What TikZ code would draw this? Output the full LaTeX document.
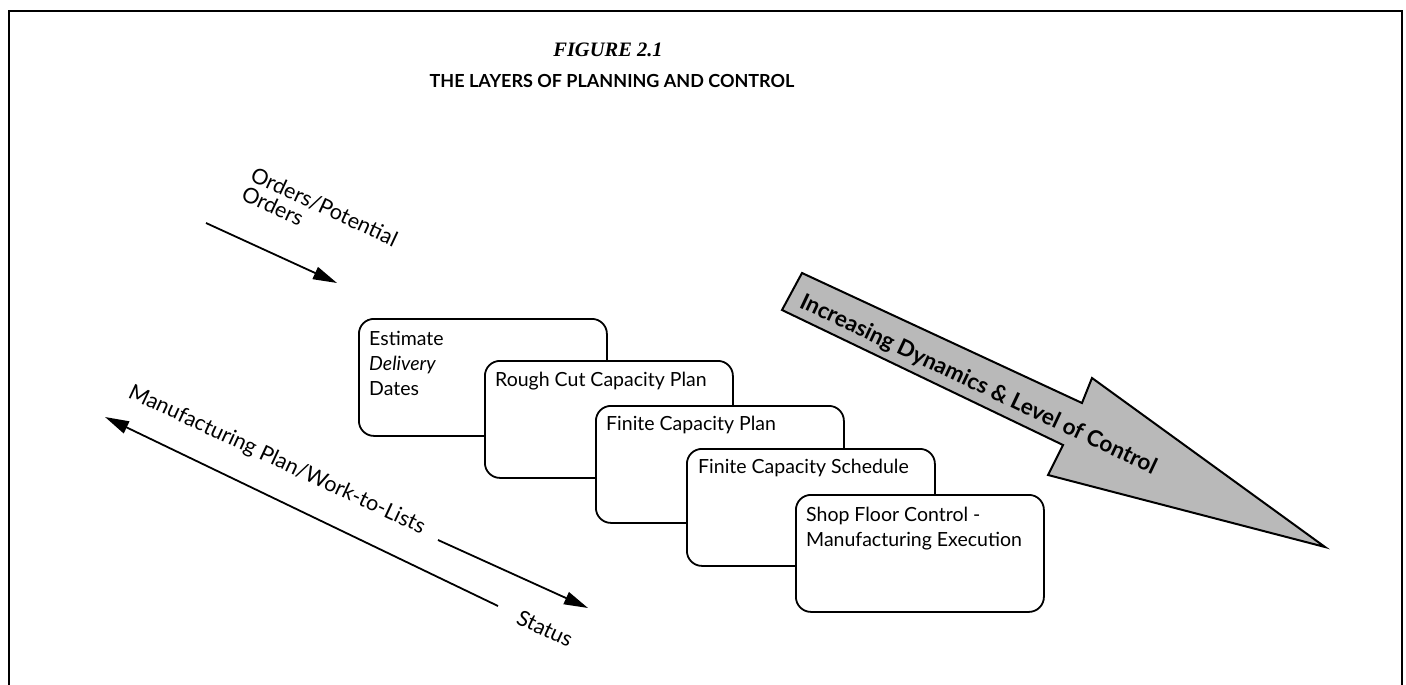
\documentclass[tikz,border=0pt]{standalone}
\usepackage{fontspec}
\setmainfont{Lato}
\newfontfamily\figserif{Liberation Serif}
\usetikzlibrary{arrows.meta}
\tikzset{
  box/.style={draw=black, line width=1.8pt, rounded corners=15pt, fill=white,
    minimum width=248pt, minimum height=117pt, inner sep=0pt, anchor=north west},
  boxtext/.style={inner sep=0pt, font=\fontsize{19.5}{25}\selectfont, align=left},
  flowarrow/.style={line width=1.8pt, -{Triangle[length=24pt,width=13pt]}},
  sidetext/.style={inner sep=0pt, anchor=base west, rotate=-25, font=\fontsize{21.5}{25}\selectfont},
  frameline/.style={line width=2pt, line cap=rect},
  bigarrow/.style={draw=black, line width=2pt, fill=gray!55, line join=miter}
}
\begin{document}
\begin{tikzpicture}[x=1pt,y=-1pt]
\useasboundingbox (0,0) rectangle (1406,685);
% frame
\coordinate (fbl) at (9,685);
\coordinate (ftl) at (9,11);
\coordinate (ftr) at (1402,11);
\coordinate (fbr) at (1402,685);
\draw[frameline] (fbl) -- (ftl) -- (ftr) -- (fbr);
% titles
\node[inner sep=0pt, font=\figserif\itshape\bfseries\fontsize{20.5}{24}\selectfont] (fig) at (608,50) {FIGURE 2.1};
\node[inner sep=0pt, font=\bfseries\fontsize{18}{21}\selectfont] (title) at (612,81) {THE LAYERS OF PLANNING AND CONTROL};
% orders arrow
\coordinate (oa1) at (206,223);
\coordinate (oa2) at (337,283);
\draw[flowarrow] (oa1) -- (oa2);
\node[sidetext] (ord1) at (249,180) {Orders/Potential};
\node[sidetext] (ord2) at (240,199) {Orders};
% manufacturing plan arrow
\coordinate (ma1) at (498,606);
\coordinate (ma2) at (105,417);
\draw[flowarrow] (ma1) -- (ma2);
\node[sidetext] (mtext) at (127,397) {Manufacturing Plan/Work-to-Lists};
% status arrow
\coordinate (sa1) at (438,540);
\coordinate (sa2) at (588,608);
\draw[flowarrow] (sa1) -- (sa2);
\node[sidetext] (stext) at (515,623) {Status};
% boxes
\node[box] (b1) at (358,318) {};
\node[boxtext, anchor=north west] (t1) at ([xshift=11pt,yshift=-13pt]b1.north west) {Estimate\\\itshape Delivery\\Dates};
\node[box] (b2) at (484,360) {};
\node[boxtext, anchor=base west] (t2) at ([xshift=11pt,yshift=-26pt]b2.north west) {Rough Cut Capacity Plan};
\node[box] (b3) at (595,405) {};
\node[boxtext, anchor=base west] (t3) at ([xshift=11pt,yshift=-25pt]b3.north west) {Finite Capacity Plan};
\node[box] (b4) at (686,448) {};
\node[boxtext, anchor=base west] (t4) at ([xshift=12pt,yshift=-25pt]b4.north west) {Finite Capacity Schedule};
\node[box] (b5) at (795,494) {};
\node[boxtext, anchor=north west] (t5) at ([xshift=11pt,yshift=-13pt]b5.north west) {Shop Floor Control -\\Manufacturing Execution};
% big arrow
\draw[bigarrow] (802,273) -- (1082,403) -- (1092,378) -- (1325,547) -- (1048,475) -- (1063,445) -- (782,310) -- cycle;
\node[inner sep=0pt, rotate=-25.3, font=\bfseries\fontsize{22.5}{26}\selectfont] (btext) at (978,385) {Increasing Dynamics \& Level of Control};
\end{tikzpicture}
\end{document}
